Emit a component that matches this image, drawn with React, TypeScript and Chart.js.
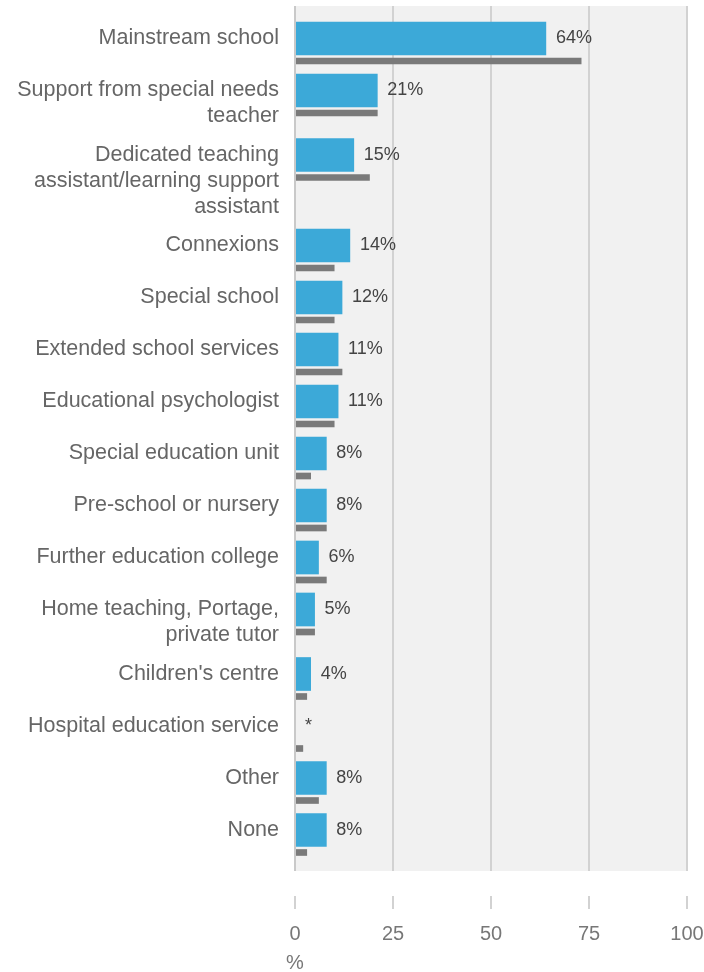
import React, { useEffect, useRef } from "react";
import { Chart, registerables } from "chart.js";

Chart.register(...registerables);

// ---------- data ----------
const categories: string[][] = [
  ["Mainstream school"],
  ["Support from special needs", "teacher"],
  ["Dedicated teaching", "assistant/learning support", "assistant"],
  ["Connexions"],
  ["Special school"],
  ["Extended school services"],
  ["Educational psychologist"],
  ["Special education unit"],
  ["Pre-school or nursery"],
  ["Further education college"],
  ["Home teaching, Portage,", "private tutor"],
  ["Children's centre"],
  ["Hospital education service"],
  ["Other"],
  ["None"],
];
const blueValues = [64, 21, 15, 14, 12, 11, 11, 8, 8, 6, 5, 4, 0, 8, 8];
const blueLabels = ["64%", "21%", "15%", "14%", "12%", "11%", "11%", "8%", "8%", "6%", "5%", "4%", "*", "8%", "8%"];
const greyValues = [73, 21, 19, 10, 10, 12, 10, 4, 8, 8, 5, 3, 2, 6, 3];
const xTicks = [0, 25, 50, 75, 100];
const xTitle = "%";

// ---------- layout / style ----------
const W = 704;
const H = 972;
const FONT = "'Liberation Sans', Arial, sans-serif";
const BLUE = "#3ca9d8";
const GREY = "#7a7a7a";
const GRID = "#d2d2d2";
const PLOT_BG = "#f1f1f1";
const LINE_H = 26;
const ROW_MIN = 52;
const TOP_PAD = 16;
const BOTTOM_PAD = 5.5;
const BLUE_T = 33;
const GREY_T = 6;
const GREY_OFF = 22.5;

const rowHeights = categories.map((l) => Math.max(ROW_MIN, l.length * LINE_H + 12.5));
const centers: number[] = [];
{
  let acc = TOP_PAD;
  rowHeights.forEach((h) => {
    centers.push(acc + BLUE_T / 2);
    acc += h;
  });
}
const yMax = TOP_PAD + rowHeights.reduce((a, b) => a + b, 0) + BOTTOM_PAD;

const decorPlugin = {
  id: "decor",
  beforeDraw(chart: any) {
    const { ctx, chartArea } = chart;
    ctx.save();
    ctx.fillStyle = PLOT_BG;
    ctx.fillRect(chartArea.left, chartArea.top, chartArea.right - chartArea.left, chartArea.bottom - chartArea.top);
    ctx.restore();
  },
  afterDatasetsDraw(chart: any) {
    const { ctx, chartArea, scales } = chart;
    const xs = scales.x;
    const ys = scales.y;
    ctx.save();
    // zero line
    const x0 = Math.round(xs.getPixelForValue(0));
    ctx.fillStyle = "#c9c9c9";
    ctx.fillRect(x0 - 1, chartArea.top, 2, chartArea.bottom - chartArea.top);
    // tick marks below the plot
    ctx.fillStyle = GRID;
    xTicks.forEach((t) => {
      const px = Math.round(xs.getPixelForValue(t));
      ctx.fillRect(px - 1, chartArea.bottom + 25, 2, 13);
    });
    // value labels
    const meta = chart.getDatasetMeta(0);
    ctx.font = `18px ${FONT}`;
    ctx.fillStyle = "#444444";
    ctx.textAlign = "left";
    ctx.textBaseline = "middle";
    meta.data.forEach((bar: any, i: number) => {
      ctx.fillText(blueLabels[i], bar.x + 10, bar.y);
    });
    // category labels
    ctx.font = `21.5px ${FONT}`;
    ctx.fillStyle = "#666666";
    ctx.textAlign = "right";
    categories.forEach((lines, i) => {
      const cy = ys.getPixelForValue(centers[i]);
      lines.forEach((ln, j) => {
        ctx.fillText(ln, chartArea.left - 16, cy + j * LINE_H);
      });
    });
    // axis title
    ctx.font = `20px ${FONT}`;
    ctx.fillStyle = "#777777";
    ctx.textAlign = "center";
    ctx.fillText(xTitle, xs.getPixelForValue(0), 963);
    ctx.restore();
  },
};

export default function App() {
  const ref = useRef<HTMLCanvasElement>(null);

  useEffect(() => {
    if (!ref.current) return;
    const chart = new Chart(ref.current, {
      type: "bar",
      data: {
        datasets: [
          {
            label: "Blue",
            data: blueValues.map((v, i) => ({ x: v, y: centers[i] })),
            backgroundColor: BLUE,
            barThickness: BLUE_T,
            grouped: false,
            borderWidth: 0,
          } as any,
          {
            label: "Grey",
            data: greyValues.map((v, i) => ({ x: v, y: centers[i] + GREY_OFF })),
            backgroundColor: GREY,
            barThickness: GREY_T,
            grouped: false,
            borderWidth: 0,
          } as any,
        ],
      },
      options: {
        indexAxis: "y",
        animation: false,
        responsive: false,
        maintainAspectRatio: false,
        layout: { padding: { left: 295, right: 17, top: 6, bottom: 0 } },
        plugins: {
          legend: { display: false },
          tooltip: { enabled: false },
          title: { display: false },
        },
        scales: {
          y: {
            type: "linear",
            display: false,
            reverse: true,
            min: 0,
            max: yMax,
            offset: false,
          },
          x: {
            type: "linear",
            position: "bottom",
            min: 0,
            max: 100,
            afterBuildTicks: (scale: any) => {
              scale.ticks = xTicks.map((v) => ({ value: v }));
            },
            afterFit: (scale: any) => {
              scale.height = H - 871;
            },
            grid: {
              color: GRID,
              lineWidth: 2,
              drawTicks: true,
              tickLength: 51,
              tickColor: "rgba(0,0,0,0)",
            },
            border: { display: false },
            ticks: {
              padding: 0,
              color: "#777777",
              font: { family: FONT, size: 20 },
              maxRotation: 0,
            },
          },
        },
      } as any,
      plugins: [decorPlugin],
    });
    return () => chart.destroy();
  }, []);

  return (
    <div style={{ position: "fixed", left: 0, top: 0, width: W, height: H, background: "#ffffff" }}>
      <canvas ref={ref} width={W} height={H} style={{ display: "block", width: W, height: H }} />
    </div>
  );
}
